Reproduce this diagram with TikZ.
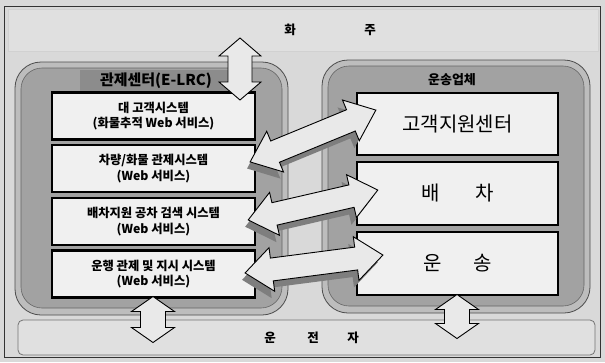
\documentclass[tikz,border=0pt]{standalone}
\usepackage{fontspec}
\newfontfamily\kr{Noto Sans CJK KR}
\definecolor{bgc}{HTML}{D9D9D9}
\definecolor{bandc}{HTML}{E0E0E0}
\definecolor{rimc}{HTML}{BDBDBD}
\definecolor{panelc}{HTML}{A2A2A2}
\definecolor{tabc}{HTML}{8C8C8C}
\definecolor{boxc}{HTML}{F0F0F0}
\definecolor{arrc}{HTML}{E9E9E9}
\definecolor{shadc}{HTML}{7E7E7E}
\tikzset{
  band/.style={draw=black!55, line width=0.8pt, fill=bandc, rounded corners=5pt},
  rim/.style={draw=black!70, line width=0.8pt, fill=rimc, rounded corners=26pt},
  panel/.style={draw=black!60, line width=0.6pt, fill=panelc, rounded corners=21pt},
  sysbox/.style={draw=black, line width=2.4pt, fill=boxc, minimum width=203pt, minimum height=47pt, inner sep=0pt, align=center, font=\kr\bfseries\fontsize{12.3}{15.5}\selectfont},
  bigbox/.style={draw=black, line width=2.4pt, fill=boxc, minimum width=201pt, inner sep=0pt, font=\kr\fontsize{20}{22}\selectfont},
  blockarrow/.style={draw=black, line width=0.9pt, fill=arrc, line join=miter},
  shadarrow/.style={fill=shadc},
  lbl/.style={font=\kr\bfseries\fontsize{12.5}{14}\selectfont, inner sep=1pt}
}
% #1 name, #2 x, #3 y, #4 angle, #5 length, #6 half shaft, #7 half head, #8 head length, #9 style
\newcommand\blockarr[9]{%
  \coordinate (#1) at (#2,#3);
  \begin{scope}[shift={(#1)}, rotate=#4]
    \path[#9] ({-#5/2},0) -- ({-#5/2+#8},#7) -- ({-#5/2+#8},#6) -- ({#5/2-#8},#6) -- ({#5/2-#8},#7) -- ({#5/2},0)
      -- ({#5/2-#8},-#7) -- ({#5/2-#8},-#6) -- ({-#5/2+#8},-#6) -- ({-#5/2+#8},-#7) -- cycle;
  \end{scope}}
\begin{document}
\begin{tikzpicture}[x=1pt,y=-1pt]
\useasboundingbox (0,0) rectangle (605,362);
\fill[bgc] (0,0) rectangle (605,362);
\node[draw=black!80, line width=1.2pt, minimum width=596pt, minimum height=351pt, inner sep=0pt] (frame) at (302.5,182) {};
% top band
\node[draw=black!18, line width=0.5pt, fill=bandc, minimum width=590pt, minimum height=42pt, inner sep=0pt] (hwaju) at (303,30) {};
\node[lbl] (hwa) at (290,30) {화};
\node[lbl] (ju) at (370,30) {주};
% bottom band
\draw[band] (18,320) rectangle (595,355);
\node[lbl] (un) at (270,338) {운};
\node[lbl] (jeon) at (313,338) {전};
\node[lbl] (ja) at (353,338) {자};
% panels
\draw[rim] (15,62) rectangle (288,315);
\draw[panel] (21,68) rectangle (282,308);
\draw[rim] (322,60) rectangle (590,313);
\draw[panel] (328,66) rectangle (584,306);
\node[fill=tabc, minimum width=152pt, minimum height=22pt, inner sep=0pt, font=\kr\bfseries\fontsize{15}{16}\selectfont] (lrc) at (156,81) {관제센터(E-LRC)};
\node[font=\kr\bfseries\fontsize{13}{15}\selectfont] (carrier) at (452,80) {운송업체};
% left system boxes
\node[sysbox] (b1) at (153.5,116) {대 고객시스템\\(화물추적 Web 서비스)};
\node[sysbox] (b2) at (153.5,168.5) {차량/화물 관제시스템\\(Web 서비스)};
\node[sysbox] (b3) at (153.5,221.5) {배차지원 공차 검색 시스템\\(Web 서비스)};
\node[sysbox] (b4) at (153.5,274) {운행 관제 및 지시 시스템\\(Web 서비스)};
% right boxes
\node[bigbox, minimum height=62pt] (r1) at (457.5,124) {고객지원센터};
\node[bigbox, minimum height=63pt] (r2) at (457.5,193.5) {배\hspace{36pt}차};
\node[bigbox, minimum height=63pt] (r3) at (457.5,263.5) {운\hspace{32pt}송};
% vertical arrows
\blockarr{va1}{240}{69}{90}{62}{12}{21}{18}{blockarrow}
\blockarr{va2}{153}{319.5}{90}{46}{12.5}{21.5}{15}{blockarrow}
\blockarr{va3}{457}{316.5}{90}{44}{12.5}{21.5}{15}{blockarrow}
% diagonal arrows with dark side
\blockarr{da1s}{309}{143}{22.4}{134}{11.5}{22}{27}{shadarrow}
\blockarr{da1}{313}{136}{22.4}{136}{11.5}{22}{27}{blockarrow}
\blockarr{da2s}{309}{212}{13}{131}{11.5}{22}{27}{shadarrow}
\blockarr{da2}{313}{205}{13}{133}{11.5}{22}{27}{blockarrow}
\blockarr{da3s}{310}{271}{7.4}{137}{11.5}{22}{27}{shadarrow}
\blockarr{da3}{314}{264}{7.4}{139}{11.5}{22}{27}{blockarrow}
\end{tikzpicture}
\end{document}
